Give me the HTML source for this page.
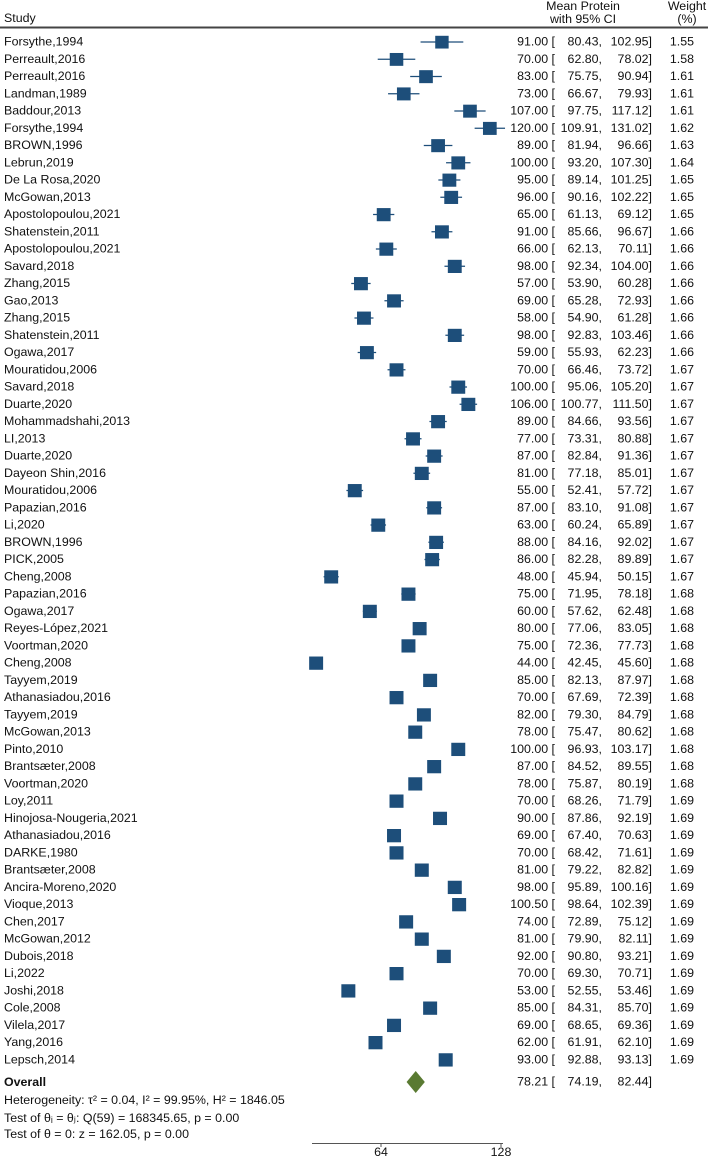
<!DOCTYPE html>
<html><head><meta charset="utf-8"><style>
html,body{margin:0;padding:0;background:#fff;}
svg{display:block;font-family:"Liberation Sans",Arial,sans-serif;font-size:12.4px;fill:#111;}
</style></head><body>
<svg id="plot" width="708" height="1156" viewBox="0 0 708 1156" xmlns="http://www.w3.org/2000/svg">
<text x="4" y="22">Study</text>
<text x="583" y="10" text-anchor="middle">Mean Protein</text>
<text x="583" y="23" text-anchor="middle">with 95% CI</text>
<text x="687" y="10" text-anchor="middle">Weight</text>
<text x="687" y="23" text-anchor="middle">(%)</text>
<line x1="0" y1="27.5" x2="708" y2="27.5" stroke="#444" stroke-width="2"/>
<g id="rows"></g>
</svg>
<script>
const studies=["Forsythe,1994","Perreault,2016","Perreault,2016","Landman,1989","Baddour,2013","Forsythe,1994","BROWN,1996","Lebrun,2019","De La Rosa,2020","McGowan,2013","Apostolopoulou,2021","Shatenstein,2011","Apostolopoulou,2021","Savard,2018","Zhang,2015","Gao,2013","Zhang,2015","Shatenstein,2011","Ogawa,2017","Mouratidou,2006","Savard,2018","Duarte,2020","Mohammadshahi,2013","LI,2013","Duarte,2020","Dayeon Shin,2016","Mouratidou,2006","Papazian,2016","Li,2020","BROWN,1996","PICK,2005","Cheng,2008","Papazian,2016","Ogawa,2017","Reyes-López,2021","Voortman,2020","Cheng,2008","Tayyem,2019","Athanasiadou,2016","Tayyem,2019","McGowan,2013","Pinto,2010","Brantsæter,2008","Voortman,2020","Loy,2011","Hinojosa-Nougeria,2021","Athanasiadou,2016","DARKE,1980","Brantsæter,2008","Ancira-Moreno,2020","Vioque,2013","Chen,2017","McGowan,2012","Dubois,2018","Li,2022","Joshi,2018","Cole,2008","Vilela,2017","Yang,2016","Lepsch,2014"];
const means=[91,70,83,73,107,120,89,100,95,96,65,91,66,98,57,69,58,98,59,70,100,106,89,77,87,81,55,87,63,88,86,48,75,60,80,75,44,85,70,82,78,100,87,78,70,90,69,70,81,98,100.5,74,81,92,70,53,85,69,62,93];
const lows=[80.43,62.80,75.75,66.67,97.75,109.91,81.94,93.20,89.14,90.16,61.13,85.66,62.13,92.34,53.90,65.28,54.90,92.83,55.93,66.46,95.06,100.77,84.66,73.31,82.84,77.18,52.41,83.10,60.24,84.16,82.28,45.94,71.95,57.62,77.06,72.36,42.45,82.13,67.69,79.30,75.47,96.93,84.52,75.87,68.26,87.86,67.40,68.42,79.22,95.89,98.64,72.89,79.90,90.80,69.30,52.55,84.31,68.65,61.91,92.88];
const highs=[102.95,78.02,90.94,79.93,117.12,131.02,96.66,107.30,101.25,102.22,69.12,96.67,70.11,104.00,60.28,72.93,61.28,103.46,62.23,73.72,105.20,111.50,93.56,80.88,91.36,85.01,57.72,91.08,65.89,92.02,89.89,50.15,78.18,62.48,83.05,77.73,45.60,87.97,72.39,84.79,80.62,103.17,89.55,80.19,71.79,92.19,70.63,71.61,82.82,100.16,102.39,75.12,82.11,93.21,70.71,53.46,85.70,69.36,62.10,93.13];
const weights=[1.55,1.58,1.61,1.61,1.61,1.62,1.63,1.64,1.65,1.65,1.65,1.66,1.66,1.66,1.66,1.66,1.66,1.66,1.66,1.67,1.67,1.67,1.67,1.67,1.67,1.67,1.67,1.67,1.67,1.67,1.67,1.67,1.68,1.68,1.68,1.68,1.68,1.68,1.68,1.68,1.68,1.68,1.68,1.68,1.69,1.69,1.69,1.69,1.69,1.69,1.69,1.69,1.69,1.69,1.69,1.69,1.69,1.69,1.69,1.69];
const overall=[78.21,74.19,82.44];
const ticks=[64,128];
const NS="http://www.w3.org/2000/svg";
const g=document.getElementById('rows');
const xs=v=>381+120*Math.log2(v/64);
const ys=i=>42+i*17.25;
function mk(tag,attrs,parent){const e=document.createElementNS(NS,tag);for(const k in attrs)e.setAttribute(k,attrs[k]);(parent||g).appendChild(e);return e;}
function txt(x,y,s,anchor,parent){const t=mk('text',{x:x,y:y,'text-anchor':anchor||'start'},parent);t.textContent=s;return t;}
studies.forEach((s,i)=>{
  const y=ys(i);
  const row=mk('g',{});
  
  
  const lab=txt(4,y+3.5,s,'start',row);
  
  
  const ci=mk('line',{x1:xs(lows[i]),x2:xs(highs[i]),y1:y,y2:y,stroke:'#1d4e7a','stroke-width':1.3},row);
  
  
  const sz=14*Math.sqrt(weights[i]/1.69);
  const b=mk('rect',{x:xs(means[i])-sz/2,y:y-sz/2+0.5,width:sz,height:sz*0.95,fill:'#1d4e7a'},row);
  
  
  const t1=txt(555,y+3.5,means[i].toFixed(2)+' [','end',row);
  
  
  const t2=txt(602,y+3.5,lows[i].toFixed(2)+',','end',row);
  
  
  const t3=txt(652,y+3.5,highs[i].toFixed(2)+']','end',row);
  
  
  const t4=txt(694,y+3.5,weights[i].toFixed(2),'end',row);
  
  
});
const oy=1082;
const ol=txt(4,oy+4,'Overall');
ol.setAttribute('font-weight','bold');


const dm=mk('polygon',{points:`${xs(overall[1])},${oy} ${xs(overall[0])},${oy-11} ${xs(overall[2])},${oy} ${xs(overall[0])},${oy+11}`,fill:'#5a7a32'});


const ot1=txt(555,oy+3.5,overall[0].toFixed(2)+' [','end');


const ot2=txt(602,oy+3.5,overall[1].toFixed(2)+',','end');


const ot3=txt(652,oy+3.5,overall[2].toFixed(2)+']','end');


const h1=txt(4,1104,'Heterogeneity: τ² = 0.04, I² = 99.95%, H² = 1846.05');


const h2=txt(4,1122,'Test of θᵢ = θⱼ: Q(59) = 168345.65, p = 0.00');


const h3=txt(4,1138,'Test of θ = 0: z = 162.05, p = 0.00');


const ax=mk('line',{x1:312,x2:503,y1:1143.5,y2:1143.5,stroke:'#555','stroke-width':1});


ticks.forEach(t=>{
  const tk=mk('line',{x1:xs(t),x2:xs(t),y1:1143.5,y2:1147,stroke:'#555'});
  
  
  const tl=txt(xs(t),1156,String(t),'middle');
  
  
});
</script>
</body></html>
